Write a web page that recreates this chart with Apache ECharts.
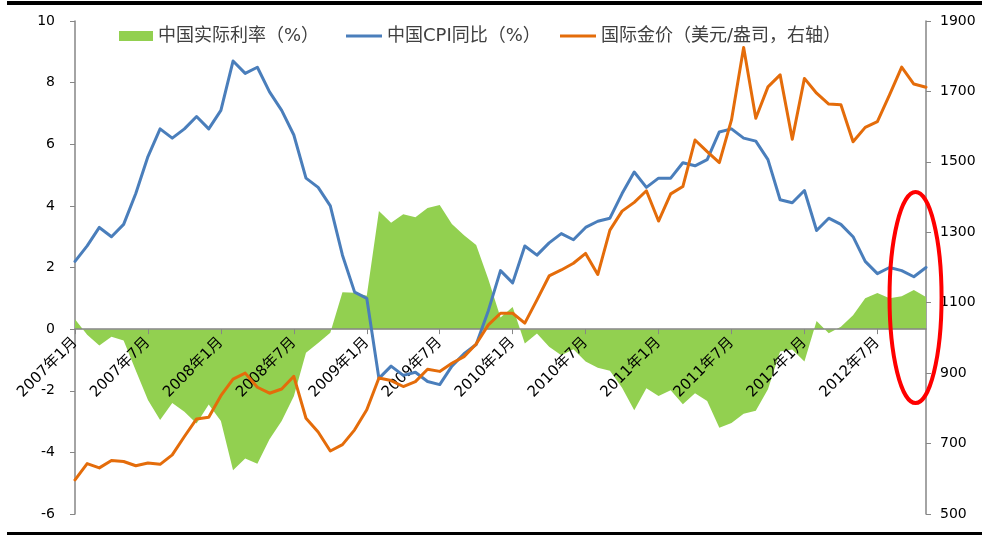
<!DOCTYPE html>
<html>
<head>
<meta charset="utf-8">
<script src="https://cdn.jsdelivr.net/npm/echarts/dist/echarts.min.js"></script>
<style>
html, body { margin: 0; padding: 0; background: #ffffff; }
#chart { width: 982px; height: 535px; }
</style>
</head>
<body>
<div id="chart"></div>
<script>
// Monthly series, January 2007 – November 2012
const startYear = 2007;
const monthCount = 71;
const categories = [];
for (let i = 0; i < monthCount; i++) {
  const y = startYear + Math.floor(i / 12);
  const m = (i % 12) + 1;
  categories.push(y + '年' + m + '月');
}

// China real interest rate (%)
const realRate = [
  0.32, -0.18, -0.53, -0.25, -0.37, -1.34, -2.3, -2.95, -2.4, -2.68, -3.06, -2.45,
  -2.98, -4.58, -4.2, -4.37, -3.57, -2.98, -2.18, -0.77, -0.45, -0.12, 1.2, 1.18,
  1.08, 3.83, 3.45, 3.73, 3.63, 3.93, 4.03, 3.41, 3.05, 2.73, 1.62, 0.38,
  0.72, -0.47, -0.14, -0.57, -0.85, -0.65, -1.05, -1.25, -1.35, -1.9, -2.63, -1.92,
  -2.17, -1.98, -2.44, -2.08, -2.33, -3.2, -3.05, -2.75, -2.65, -1.95, -0.73, -0.66,
  -1.05, 0.26, -0.13, 0.08, 0.45, 1.0, 1.17, 1.0, 1.07, 1.27, 1.04
];

// China CPI, year on year (%)
const cpi = [
  2.2, 2.7, 3.3, 3.0, 3.4, 4.4, 5.6, 6.5, 6.2, 6.5, 6.9, 6.5,
  7.1, 8.7, 8.3, 8.5, 7.7, 7.1, 6.3, 4.9, 4.6, 4.0, 2.4, 1.2,
  1.0, -1.6, -1.2, -1.5, -1.4, -1.7, -1.8, -1.2, -0.8, -0.5, 0.6, 1.9,
  1.5, 2.7, 2.4, 2.8, 3.1, 2.9, 3.3, 3.5, 3.6, 4.4, 5.1, 4.6,
  4.9, 4.9, 5.4, 5.3, 5.5, 6.4, 6.5, 6.2, 6.1, 5.5, 4.2, 4.1,
  4.5, 3.2, 3.6, 3.4, 3.0, 2.2, 1.8, 2.0, 1.9, 1.7, 2.0
];

// International gold price (USD/oz, right axis)
const gold = [
  597, 643, 631, 652, 649, 637, 645, 641, 668, 720, 770, 775,
  836, 883, 900, 860, 843, 855, 891, 772, 733, 679, 697, 739,
  796, 886, 879, 862, 876, 911, 905, 928, 947, 983, 1037, 1070,
  1070, 1042, 1108, 1176, 1193, 1212, 1240, 1180, 1306, 1360, 1385, 1418,
  1332, 1409, 1430, 1562, 1529, 1498, 1619, 1825, 1624, 1713, 1747, 1564,
  1737, 1695, 1664, 1662, 1557, 1598, 1614, 1690, 1769, 1721, 1712
];

const seriesNames = ['中国实际利率（%）', '中国CPI同比（%）', '国际金价（美元/盎司，右轴）'];
const leftTicks = { min: -6, max: 10, step: 2 };
const rightTicks = { min: 500, max: 1900, step: 200 };

const fontMix = "'DejaVu Sans', 'Noto Sans CJK SC', sans-serif";
const axisGray = '#868686';

const legendText = { fontSize: 18, color: '#404040', fontFamily: fontMix };
function legendAt(name, left, w, h) {
  return {
    data: [name], left: left, top: 27, padding: 0,
    icon: 'rect', itemWidth: w, itemHeight: h, itemGap: 0,
    itemStyle: { borderWidth: 0 },
    textStyle: legendText, selectedMode: false
  };
}

const plainNumber = v => String(v);

const chart = echarts.init(document.getElementById('chart'), null, { renderer: 'canvas' });

chart.setOption({
  animation: false,
  backgroundColor: '#ffffff',
  grid: { left: 75, right: 56, top: 21, bottom: 21, containLabel: false, outerBoundsMode: 'none' },
  legend: [
    legendAt(seriesNames[0], 119, 34, 10),
    legendAt(seriesNames[1], 346, 36, 3),
    legendAt(seriesNames[2], 560, 36, 3)
  ],
  xAxis: {
    type: 'category',
    data: categories,
    boundaryGap: false,
    position: 'bottom',
    offset: 0,
    z: 2,
    axisLine: { onZero: false, lineStyle: { color: axisGray, width: 1.5 } },
    axisTick: { show: true, interval: 5, length: 5, inside: false, lineStyle: { color: axisGray } },
    axisLabel: {
      interval: 5, rotate: 45, margin: 11,
      fontSize: 15, color: '#000000', fontFamily: fontMix
    },
    splitLine: { show: false }
  },
  yAxis: [
    {
      type: 'value',
      min: leftTicks.min, max: leftTicks.max, interval: leftTicks.step,
      axisLine: { show: true, onZero: false, lineStyle: { color: axisGray, width: 1.5 } },
      axisTick: { show: true, length: 5, lineStyle: { color: axisGray } },
      axisLabel: { margin: 20, fontSize: 14, color: '#000000', fontFamily: fontMix, formatter: plainNumber },
      splitLine: { show: false }
    },
    {
      type: 'value',
      position: 'right',
      min: rightTicks.min, max: rightTicks.max, interval: rightTicks.step,
      axisLine: { show: true, onZero: false, lineStyle: { color: axisGray, width: 1.5 } },
      axisTick: { show: true, length: 5, lineStyle: { color: axisGray } },
      axisLabel: { margin: 14, fontSize: 14, color: '#000000', fontFamily: fontMix, formatter: plainNumber },
      splitLine: { show: false }
    }
  ],
  series: [
    {
      name: seriesNames[0],
      type: 'line',
      data: realRate,
      yAxisIndex: 0,
      color: '#92D050',
      symbol: 'none',
      lineStyle: { width: 0 },
      areaStyle: { color: '#92D050', opacity: 1, origin: 0 },
      z: 1
    },
    {
      name: seriesNames[1],
      type: 'line',
      data: cpi,
      yAxisIndex: 0,
      color: '#4A7EBB',
      symbol: 'none',
      lineStyle: { width: 3, color: '#4A7EBB', join: 'round', cap: 'round' },
      z: 3
    },
    {
      name: seriesNames[2],
      type: 'line',
      data: gold,
      yAxisIndex: 1,
      color: '#E46C0A',
      symbol: 'none',
      lineStyle: { width: 3, color: '#E46C0A', join: 'round', cap: 'round' },
      z: 4
    }
  ]
});

// Place the category axis on the zero line of the left axis
const zeroY = chart.convertToPixel({ yAxisIndex: 0 }, 0);
const bottomY = chart.convertToPixel({ yAxisIndex: 0 }, leftTicks.min);
chart.setOption({ xAxis: { offset: -(bottomY - zeroY) } });

// Frame bands and the highlight ring around the latest months
const p69 = chart.convertToPixel({ gridIndex: 0 }, [69, 0]);
const p70 = chart.convertToPixel({ gridIndex: 0 }, [70, 0]);
const step = p70[0] - p69[0];
const ringTop = chart.convertToPixel({ gridIndex: 0 }, [69, 4.45])[1];
const ringBottom = chart.convertToPixel({ gridIndex: 0 }, [69, -2.4])[1];

chart.setOption({
  graphic: [
    { type: 'rect', shape: { x: 7, y: 1, width: 975, height: 4 }, style: { fill: '#000000' }, silent: true },
    { type: 'rect', shape: { x: 7, y: 532, width: 975, height: 3 }, style: { fill: '#000000' }, silent: true },
    {
      type: 'ellipse',
      shape: {
        cx: p69[0] + 0.14 * step,
        cy: (ringTop + ringBottom) / 2,
        rx: 2.14 * step,
        ry: (ringBottom - ringTop) / 2
      },
      style: { fill: 'none', stroke: '#FF0000', lineWidth: 4 },
      z: 100,
      silent: true
    }
  ]
});
</script>
</body>
</html>
